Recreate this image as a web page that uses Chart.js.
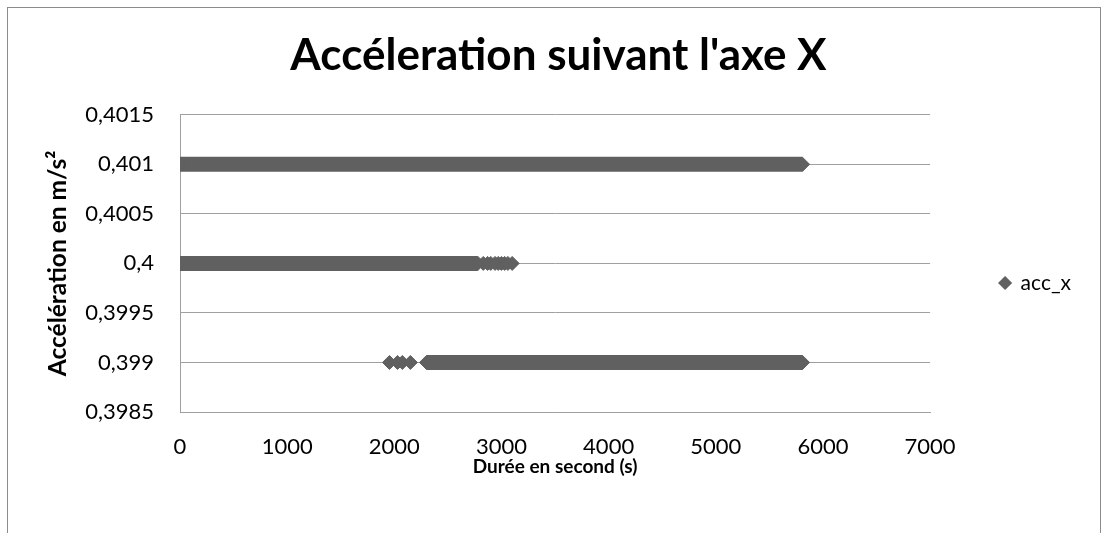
<!DOCTYPE html>
<html><head><meta charset="utf-8">
<script src="https://cdn.jsdelivr.net/npm/chart.js@4/dist/chart.umd.min.js"></script>
<style>
html,body{margin:0;padding:0;background:#fff;overflow:hidden;}
#wrap{position:relative;width:1109px;height:533px;overflow:hidden;}
#frame{position:absolute;left:7px;top:7px;width:1092px;height:600px;border:1px solid #8c8c8c;}
canvas{position:absolute;left:0;top:0;}
</style></head><body>
<div id="wrap"><div id="frame"></div><canvas id="c" width="1109" height="533"></canvas></div>
<script>
const chartTitle = "Accéleration suivant l'axe X";
const xAxisTitle = "Durée en second (s)";
const yAxisTitle = "Accélération en m/s²";
const seriesName = "acc_x";
const xTicks = [0, 1000, 2000, 3000, 4000, 5000, 6000, 7000];
const yTicks = [0.3985, 0.399, 0.3995, 0.4, 0.4005, 0.401, 0.4015];

// continuous stretches of samples at one level (seconds)
const runLevel = [0.401, 0.4, 0.399];
const runStart = [0, 0, 2300];
const runEnd = [5810, 2780, 5810];
// scattered single samples
const loneTime = [2830, 2870, 2900, 2940, 2970, 3000, 3030, 3060, 3100, 1955, 2030, 2075, 2150];
const loneLevel = [0.4, 0.4, 0.4, 0.4, 0.4, 0.4, 0.4, 0.4, 0.4, 0.399, 0.399, 0.399, 0.399];

const markColor = '#606060';
const gridColor = '#a0a0a0';

const points = [];
runLevel.forEach((lv, i) => {
  points.push({x: runStart[i], y: lv});
  points.push({x: runEnd[i], y: lv});
  points.push({x: runEnd[i], y: null});
});
loneTime.forEach((t, i) => {
  points.push({x: t, y: loneLevel[i]});
  points.push({x: t, y: null});
});

const fmt = v => String(parseFloat(Number(v).toFixed(4))).replace('.', ',');

new Chart(document.getElementById('c'), {
  type: 'scatter',
  data: {
    datasets: [{
      label: seriesName,
      data: points,
      showLine: true,
      spanGaps: false,
      borderColor: markColor,
      backgroundColor: markColor,
      borderWidth: 15,
      borderCapStyle: 'butt',
      pointStyle: 'rectRot',
      pointRadius: 7,
      pointBorderWidth: 1,
      pointBorderColor: markColor,
      pointBackgroundColor: markColor,
      pointHoverRadius: 7
    }]
  },
  options: {
    responsive: false,
    animation: false,
    events: [],
    layout: {padding: {left: 36, right: 28, top: 0, bottom: 53}},
    plugins: {
      tooltip: {enabled: false},
      title: {
        display: true,
        text: chartTitle,
        color: '#000',
        font: {family: 'Lato', size: 44, weight: 'bold'},
        padding: {top: 29, bottom: 33}
      },
      legend: {
        position: 'right',
        title: {display: true, text: ' ', font: {size: 10}, padding: {top: 37, bottom: 37}},
        labels: {
          usePointStyle: true,
          boxWidth: 10,
          boxHeight: 10,
          padding: 70,
          color: '#000',
          font: {family: 'Lato', size: 21},
          generateLabels: (chart) => Chart.defaults.plugins.legend.labels.generateLabels(chart).map(l => Object.assign(l, {lineWidth: 0, fillStyle: markColor, strokeStyle: markColor, pointStyle: 'rectRot'}))
        }
      }
    },
    scales: {
      x: {
        type: 'linear',
        min: 0, max: 7000,
        afterBuildTicks: s => { s.ticks = xTicks.map(v => ({value: v})); },
        afterFit: s => { s.height = 68; },
        grid: {display: false, drawTicks: false},
        border: {display: true, color: gridColor, width: 1},
        ticks: {color: '#000', font: {family: 'Lato', size: 22}, padding: 22, maxRotation: 0, autoSkip: false, callback: v => String(v)},
        title: {display: true, text: xAxisTitle, color: '#000', font: {family: 'Lato', size: 19, weight: 'bold'}, padding: {top: 0, bottom: 2}}
      },
      y: {
        type: 'linear',
        min: 0.3985, max: 0.4015,
        afterBuildTicks: s => { s.ticks = yTicks.map(v => ({value: v})); },
        afterFit: s => { s.width = 144; },
        grid: {display: true, color: gridColor, drawTicks: false, lineWidth: 1},
        border: {display: true, color: gridColor, width: 1},
        ticks: {color: '#000', font: {family: 'Lato', size: 22}, padding: 26, callback: v => fmt(v), autoSkip: false},
        title: {display: true, text: yAxisTitle, color: '#000', font: {family: 'Lato', size: 24.5, weight: 'bold'}, padding: {top: 7, bottom: 0}}
      }
    }
  }
});
</script>
</body></html>
